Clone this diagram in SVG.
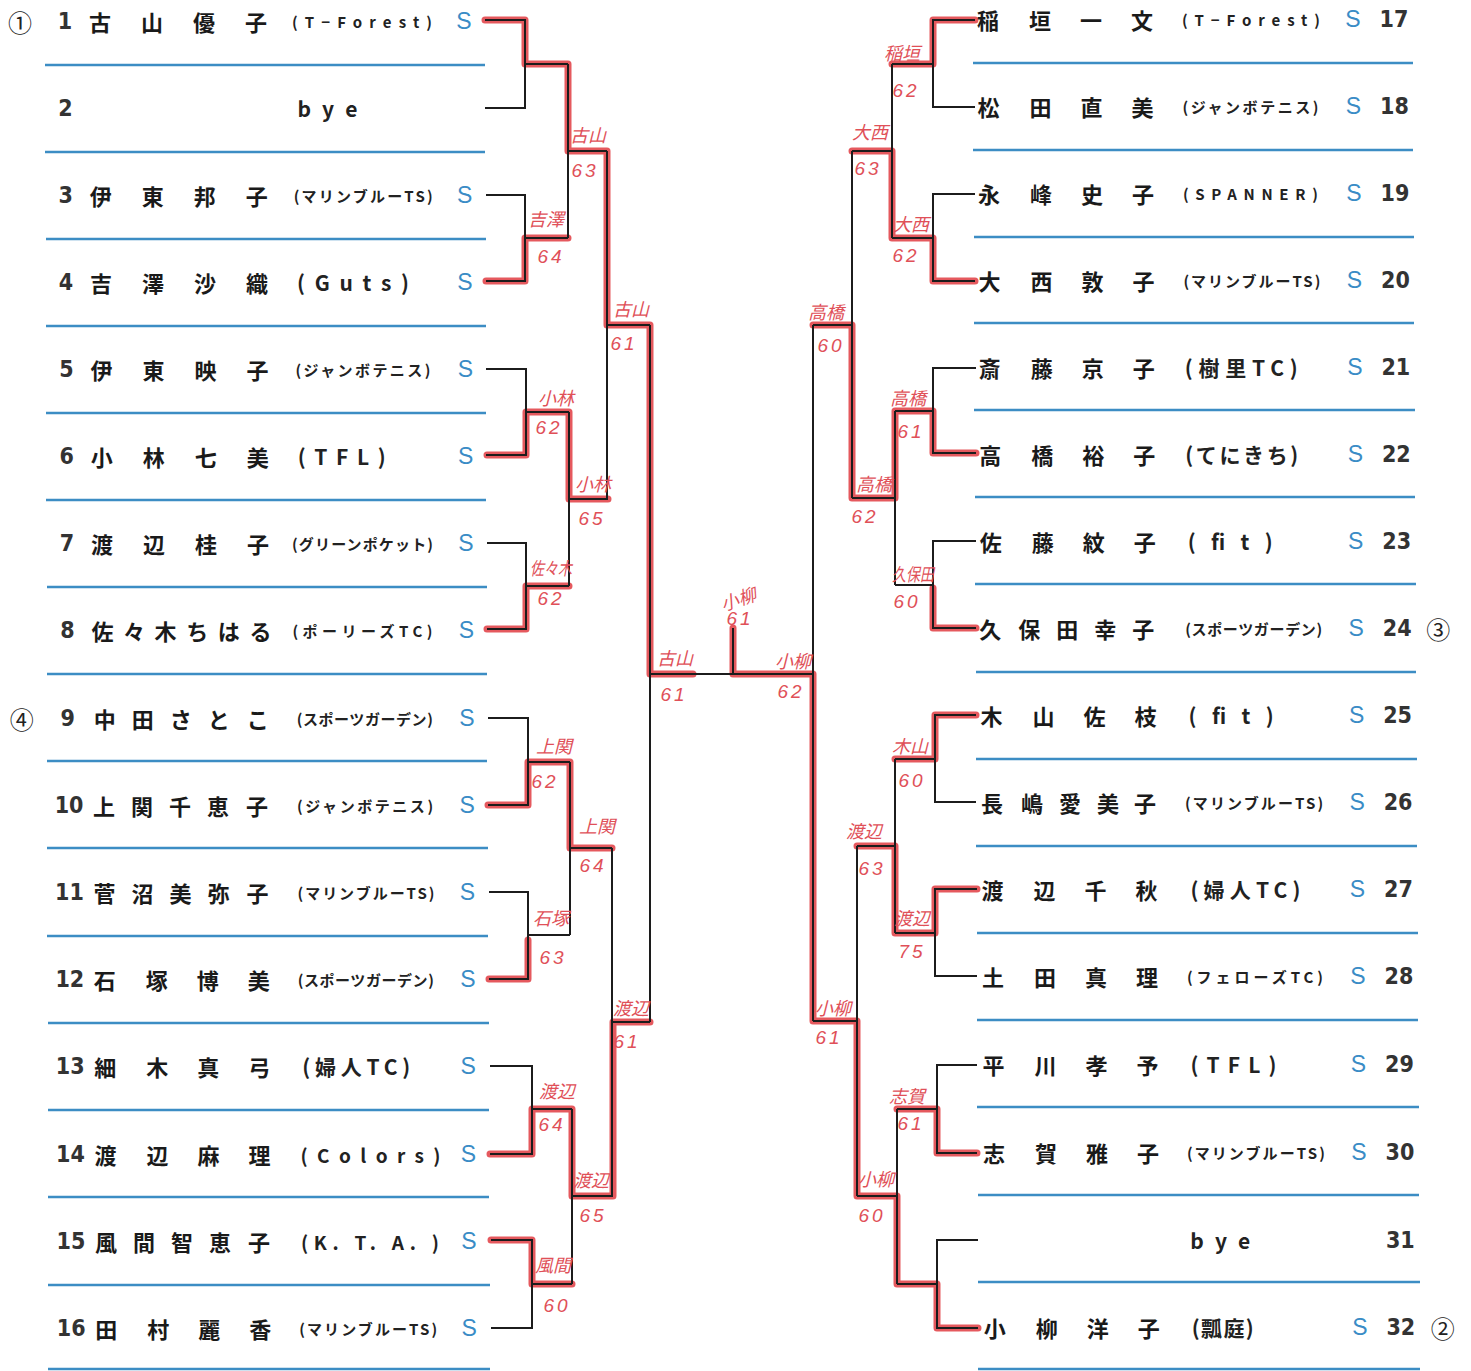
<svg xmlns="http://www.w3.org/2000/svg" width="1471" height="1371" viewBox="0 0 1471 1371">
<defs>
<style>
.nm{font-family:"Noto Sans CJK JP","Noto Sans CJK SC",sans-serif;font-size:22px;font-weight:700;fill:#1a1a1a;text-anchor:middle;dominant-baseline:central}
.no{font-family:"DejaVu Sans Condensed","DejaVu Sans","Liberation Sans Narrow",sans-serif;font-stretch:condensed;font-size:23px;font-weight:700;fill:#333;text-anchor:middle;dominant-baseline:central}
.cl{font-family:"Noto Sans CJK JP","Noto Sans CJK SC",sans-serif;font-size:15px;font-weight:700;fill:#222;dominant-baseline:central}
.cm{font-family:"Noto Sans CJK JP","Noto Sans CJK SC",sans-serif;font-size:19px;font-weight:700;fill:#222;dominant-baseline:central}
.cb{font-family:"Noto Sans CJK JP","Noto Sans CJK SC",sans-serif;font-size:21px;font-weight:700;fill:#222;dominant-baseline:central}
.s{font-family:"Liberation Sans",sans-serif;font-size:23px;fill:#3a8cc6;text-anchor:middle;dominant-baseline:central}
.ci{font-family:"Noto Sans CJK JP","Noto Sans CJK SC",sans-serif;font-size:24px;fill:#222;text-anchor:middle;dominant-baseline:central}
.sep{stroke:#3c8dc4;stroke-width:2.5}
.br{fill:none;stroke:#1c1c1c;stroke-width:2}
.win{fill:none;stroke:#e2474d;stroke-width:7;stroke-opacity:0.9;stroke-linejoin:round;stroke-linecap:round}
.hw{font-family:"Noto Sans CJK JP","Noto Sans CJK SC",sans-serif;font-size:18px;fill:#e05058;text-anchor:middle;dominant-baseline:central;font-style:italic}
.hs{font-family:"Liberation Sans",sans-serif;font-size:19px;fill:#e05058;text-anchor:middle;dominant-baseline:central;font-style:italic;letter-spacing:3px}
</style>
</defs>
<rect width="1471" height="1371" fill="#ffffff"/>

<g id="rules">
<line class="sep" x1="45" y1="65" x2="485" y2="65"/>
<line class="sep" x1="45" y1="152" x2="485" y2="152"/>
<line class="sep" x1="46" y1="239" x2="486" y2="239"/>
<line class="sep" x1="46" y1="326" x2="486" y2="326"/>
<line class="sep" x1="46" y1="413" x2="486" y2="413"/>
<line class="sep" x1="46" y1="500" x2="486" y2="500"/>
<line class="sep" x1="47" y1="587" x2="487" y2="587"/>
<line class="sep" x1="47" y1="674" x2="487" y2="674"/>
<line class="sep" x1="47" y1="761" x2="487" y2="761"/>
<line class="sep" x1="47" y1="848" x2="488" y2="848"/>
<line class="sep" x1="47" y1="936" x2="488" y2="936"/>
<line class="sep" x1="48" y1="1023" x2="489" y2="1023"/>
<line class="sep" x1="48" y1="1110" x2="489" y2="1110"/>
<line class="sep" x1="48" y1="1197" x2="489" y2="1197"/>
<line class="sep" x1="48" y1="1285" x2="490" y2="1285"/>
<line class="sep" x1="48" y1="1369" x2="490" y2="1369"/>
<line class="sep" x1="973" y1="63" x2="1413" y2="63"/>
<line class="sep" x1="973" y1="150" x2="1413" y2="150"/>
<line class="sep" x1="974" y1="237" x2="1414" y2="237"/>
<line class="sep" x1="974" y1="323" x2="1414" y2="323"/>
<line class="sep" x1="974" y1="410" x2="1415" y2="410"/>
<line class="sep" x1="975" y1="497" x2="1415" y2="497"/>
<line class="sep" x1="975" y1="584" x2="1416" y2="584"/>
<line class="sep" x1="976" y1="672" x2="1416" y2="672"/>
<line class="sep" x1="976" y1="759" x2="1417" y2="759"/>
<line class="sep" x1="976" y1="846" x2="1417" y2="846"/>
<line class="sep" x1="977" y1="933" x2="1418" y2="933"/>
<line class="sep" x1="977" y1="1020" x2="1418" y2="1020"/>
<line class="sep" x1="977" y1="1107" x2="1419" y2="1107"/>
<line class="sep" x1="978" y1="1195" x2="1419" y2="1195"/>
<line class="sep" x1="978" y1="1282" x2="1420" y2="1282"/>
<line class="sep" x1="978" y1="1369" x2="1420" y2="1369"/>
</g>

<g id="connectors">
<g id="winners">
<path class="win" d="M485,20 H525 V64 H568 V151 H607 V325 H650 V674 H693"/>
<path class="win" d="M486,281 H525 V238 H568"/>
<path class="win" d="M487,455 H526 V412 H569 V499 H608"/>
<path class="win" d="M487,629 H526 V586 H569"/>
<path class="win" d="M488,805 H528 V762 H570 V848 H612"/>
<path class="win" d="M489,979 H528 V940"/>
<path class="win" d="M490,1154 H532 V1109 H572 V1196 H613 V1022 H650"/>
<path class="win" d="M491,1240 H532 V1284 H572"/>
<path class="win" d="M975,20 H933 V64 H892"/>
<path class="win" d="M975,281 H933 V238 H892 V151 H852"/>
<path class="win" d="M976,453 H933 V411 H895 V498 H852 V325 H813"/>
<path class="win" d="M976,628 H933 V588"/>
<path class="win" d="M976,715 H935 V759 H895"/>
<path class="win" d="M977,889 H935 V933 H895 V846 H857"/>
<path class="win" d="M977,1153 H937 V1109 H897"/>
<path class="win" d="M978,1328 H937 V1284 H897 V1196 H857 V1021 H813 V674 H733 V628"/>
</g>
<g id="lines">
<path class="br" d="M485,20 H525 V108 H485 M525,64 H568"/>
<path class="br" d="M486,195 H525 V281 H486 M525,238 H568"/>
<path class="br" d="M486,369 H526 V455 H486 M526,412 H569"/>
<path class="br" d="M487,543 H526 V629 H487 M526,586 H569"/>
<path class="br" d="M488,718 H528 V805 H488 M528,762 H570"/>
<path class="br" d="M489,892 H528 V979 H489 M528,935 H570"/>
<path class="br" d="M490,1066 H532 V1154 H490 M532,1109 H572"/>
<path class="br" d="M491,1240 H532 V1328 H491 M532,1284 H572"/>
<path class="br" d="M568,64 V238 M568,151 H607"/>
<path class="br" d="M569,412 V586 M569,499 H608"/>
<path class="br" d="M570,762 V935 M570,848 H612"/>
<path class="br" d="M572,1109 V1284 M572,1196 H613"/>
<path class="br" d="M607,151 V499 M607,325 H650"/>
<path class="br" d="M612,848 V1196 M612,1022 H650"/>
<path class="br" d="M650,325 V1022"/>
<path class="br" d="M650,674 H813 M733,628 V674"/>
<path class="br" d="M975,20 H933 V107 H975 M933,64 H892"/>
<path class="br" d="M975,194 H933 V281 H975 M933,238 H892"/>
<path class="br" d="M976,368 H933 V453 H976 M933,411 H895"/>
<path class="br" d="M976,541 H933 V628 H976 M933,585 H895"/>
<path class="br" d="M976,715 H935 V802 H976 M935,759 H895"/>
<path class="br" d="M977,889 H935 V976 H977 M935,933 H895"/>
<path class="br" d="M977,1065 H937 V1153 H977 M937,1109 H897"/>
<path class="br" d="M978,1240 H937 V1328 H978 M937,1284 H897"/>
<path class="br" d="M892,64 V238 M892,151 H852"/>
<path class="br" d="M895,411 V585 M895,498 H852"/>
<path class="br" d="M895,759 V933 M895,846 H857"/>
<path class="br" d="M897,1109 V1284 M897,1196 H857"/>
<path class="br" d="M852,151 V498 M852,325 H813"/>
<path class="br" d="M857,846 V1196 M857,1021 H813"/>
<path class="br" d="M813,325 V1021"/>
</g>
</g>

<g id="labels">
<text class="hw" x="546" y="218">吉澤</text><text class="hs" x="551" y="256">64</text>
<text class="hw" x="588" y="134">古山</text><text class="hs" x="585" y="170">63</text>
<text class="hw" x="631" y="308">古山</text><text class="hs" x="624" y="343">61</text>
<text class="hw" x="556" y="397">小林</text><text class="hs" x="549" y="427">62</text>
<text class="hw" x="593" y="483">小林</text><text class="hs" x="592" y="518">65</text>
<text class="hw" x="551" y="567" textLength="42" lengthAdjust="spacingAndGlyphs">佐々木</text><text class="hs" x="551" y="598">62</text>
<text class="hw" x="675" y="657">古山</text><text class="hs" x="674" y="694">61</text>
<text class="hw" x="554" y="745">上関</text><text class="hs" x="545" y="781">62</text>
<text class="hw" x="597" y="825">上関</text><text class="hs" x="593" y="865">64</text>
<text class="hw" x="551" y="917">石塚</text><text class="hs" x="553" y="957">63</text>
<text class="hw" x="631" y="1007">渡辺</text><text class="hs" x="627" y="1041">61</text>
<text class="hw" x="557" y="1090">渡辺</text><text class="hs" x="552" y="1124">64</text>
<text class="hw" x="591" y="1179">渡辺</text><text class="hs" x="593" y="1215">65</text>
<text class="hw" x="553" y="1264">風間</text><text class="hs" x="557" y="1305">60</text>
<text class="hw" x="902" y="52">稲垣</text><text class="hs" x="906" y="90">62</text>
<text class="hw" x="870" y="131">大西</text><text class="hs" x="868" y="168">63</text>
<text class="hw" x="911" y="223">大西</text><text class="hs" x="906" y="255">62</text>
<text class="hw" x="826" y="311">高橋</text><text class="hs" x="831" y="345">60</text>
<text class="hw" x="908" y="397">高橋</text><text class="hs" x="911" y="431">61</text>
<text class="hw" x="874" y="483">高橋</text><text class="hs" x="865" y="516">62</text>
<text class="hw" x="913" y="573" textLength="42" lengthAdjust="spacingAndGlyphs">久保田</text><text class="hs" x="907" y="601">60</text>
<text class="hw" x="910" y="745">木山</text><text class="hs" x="912" y="780">60</text>
<text class="hw" x="864" y="830">渡辺</text><text class="hs" x="872" y="868">63</text>
<text class="hw" x="912" y="917">渡辺</text><text class="hs" x="912" y="951">75</text>
<text class="hw" x="833" y="1007">小柳</text><text class="hs" x="829" y="1037">61</text>
<text class="hw" x="907" y="1095">志賀</text><text class="hs" x="911" y="1123">61</text>
<text class="hw" x="876" y="1178">小柳</text><text class="hs" x="872" y="1215">60</text>
<text class="hw" x="793" y="660">小柳</text><text class="hs" x="791" y="691">62</text>
<text class="hw" x="738" y="598" font-size="21" transform="rotate(-18 738 598)">小柳</text><text class="hs" x="740" y="618" font-size="21">61</text>
</g>

<g id="p1" transform="translate(0,21)"><text class="ci" x="20" y="0">①</text><text class="no" x="65" y="0">1</text><text class="nm" x="100 152 204 256" y="0">古山優子</text><text class="cl" x="292" y="0" textLength="140" lengthAdjust="spacing">(T−Forest)</text><text class="s" x="464" y="0">S</text></g>
<g id="p2" transform="translate(0.4,108)"><text class="no" x="65" y="0">2</text><text class="cb" x="297" y="0" textLength="60" lengthAdjust="spacing">bye</text></g>
<g id="p3" transform="translate(0.7,195)"><text class="no" x="65" y="0">3</text><text class="nm" x="100 152 204 256" y="0">伊東邦子</text><text class="cl" x="293" y="0" textLength="139" lengthAdjust="spacing">(マリンブルーTS)</text><text class="s" x="464" y="0">S</text></g>
<g id="p4" transform="translate(1,282)"><text class="no" x="65" y="0">4</text><text class="nm" x="100 152 204 256" y="0">吉澤沙織</text><text class="cb" x="296" y="0" textLength="112" lengthAdjust="spacing">(Guts)</text><text class="s" x="464" y="0">S</text></g>
<g id="p5" transform="translate(1.4,369)"><text class="no" x="65" y="0">5</text><text class="nm" x="100 152 204 256" y="0">伊東映子</text><text class="cl" x="294" y="0" textLength="135" lengthAdjust="spacing">(ジャンボテニス)</text><text class="s" x="464" y="0">S</text></g>
<g id="p6" transform="translate(1.7,456)"><text class="no" x="65" y="0">6</text><text class="nm" x="100 152 204 256" y="0">小林七美</text><text class="cb" x="296" y="0" textLength="88" lengthAdjust="spacing">(TFL)</text><text class="s" x="464" y="0">S</text></g>
<g id="p7" transform="translate(2,543)"><text class="no" x="65" y="0">7</text><text class="nm" x="100 152 204 256" y="0">渡辺桂子</text><text class="cl" x="290" y="0" textLength="141" lengthAdjust="spacing">(グリーンポケット)</text><text class="s" x="464" y="0">S</text></g>
<g id="p8" transform="translate(2.4,630)"><text class="no" x="65" y="0">8</text><text class="nm" x="100 131.6 163.2 194.8 226.4 258" y="0">佐々木ちはる</text><text class="cl" x="290" y="0" textLength="140" lengthAdjust="spacing">(ポーリーズTC)</text><text class="s" x="464" y="0">S</text></g>
<g id="p9" transform="translate(2.8,718)"><text class="ci" x="19" y="0">④</text><text class="no" x="65" y="0">9</text><text class="nm" x="102 140 178 216 255" y="0">中田さとこ</text><text class="cl" x="294" y="0" textLength="136" lengthAdjust="spacing">(スポーツガーデン)</text><text class="s" x="464" y="0">S</text></g>
<g id="p10" transform="translate(3.1,805)"><text class="no" x="66" y="0">10</text><text class="nm" x="101 139 177 215 254" y="0">上関千恵子</text><text class="cl" x="294" y="0" textLength="136" lengthAdjust="spacing">(ジャンボテニス)</text><text class="s" x="464" y="0">S</text></g>
<g id="p11" transform="translate(3.5,892)"><text class="no" x="66" y="0">11</text><text class="nm" x="101 139 177 215 254" y="0">菅沼美弥子</text><text class="cl" x="294" y="0" textLength="137" lengthAdjust="spacing">(マリンブルーTS)</text><text class="s" x="464" y="0">S</text></g>
<g id="p12" transform="translate(3.8,979)"><text class="no" x="66" y="0">12</text><text class="nm" x="101 153 204 255" y="0">石塚博美</text><text class="cl" x="294" y="0" textLength="136" lengthAdjust="spacing">(スポーツガーデン)</text><text class="s" x="464" y="0">S</text></g>
<g id="p13" transform="translate(4.2,1066)"><text class="no" x="66" y="0">13</text><text class="nm" x="101 153 204 255" y="0">細木真弓</text><text class="cb" x="298" y="0" textLength="108" lengthAdjust="spacing">(婦人TC)</text><text class="s" x="464" y="0">S</text></g>
<g id="p14" transform="translate(4.5,1154)"><text class="no" x="66" y="0">14</text><text class="nm" x="101 153 204 255" y="0">渡辺麻理</text><text class="cm" x="296" y="0" textLength="140" lengthAdjust="spacing">(Colors)</text><text class="s" x="464" y="0">S</text></g>
<g id="p15" transform="translate(4.9,1241)"><text class="no" x="66" y="0">15</text><text class="nm" x="101 139 177 215 254" y="0">風間智恵子</text><text class="cm" x="296" y="0" textLength="138" lengthAdjust="spacing">(K. T. A. )</text><text class="s" x="464" y="0">S</text></g>
<g id="p16" transform="translate(5.2,1328)"><text class="no" x="66" y="0">16</text><text class="nm" x="101 153 204 255" y="0">田村麗香</text><text class="cl" x="294" y="0" textLength="138" lengthAdjust="spacing">(マリンブルーTS)</text><text class="s" x="464" y="0">S</text></g>

<g id="p17" transform="translate(0,19)"><text class="nm" x="988 1040 1091 1142" y="0">稲垣一文</text><text class="cl" x="1182" y="0" textLength="138" lengthAdjust="spacing">(T−Forest)</text><text class="s" x="1353" y="0">S</text><text class="no" x="1394" y="0">17</text></g>
<g id="p18" transform="translate(0.5,106)"><text class="nm" x="988 1040 1091 1142" y="0">松田直美</text><text class="cl" x="1182" y="0" textLength="136" lengthAdjust="spacing">(ジャンボテニス)</text><text class="s" x="1353" y="0">S</text><text class="no" x="1394" y="0">18</text></g>
<g id="p19" transform="translate(0.9,193)"><text class="nm" x="988 1040 1091 1142" y="0">永峰史子</text><text class="cl" x="1182" y="0" textLength="135" lengthAdjust="spacing">(SPANNER)</text><text class="s" x="1353" y="0">S</text><text class="no" x="1394" y="0">19</text></g>
<g id="p20" transform="translate(1.4,280)"><text class="nm" x="988 1040 1091 1142" y="0">大西敦子</text><text class="cl" x="1182" y="0" textLength="137" lengthAdjust="spacing">(マリンブルーTS)</text><text class="s" x="1353" y="0">S</text><text class="no" x="1394" y="0">20</text></g>
<g id="p21" transform="translate(1.8,367)"><text class="nm" x="988 1040 1091 1142" y="0">斎藤京子</text><text class="cb" x="1183" y="0" textLength="113" lengthAdjust="spacing">(樹里TC)</text><text class="s" x="1353" y="0">S</text><text class="no" x="1394" y="0">21</text></g>
<g id="p22" transform="translate(2.3,454)"><text class="nm" x="988 1040 1091 1142" y="0">高橋裕子</text><text class="cb" x="1183" y="0" textLength="113" lengthAdjust="spacing">(てにきち)</text><text class="s" x="1353" y="0">S</text><text class="no" x="1394" y="0">22</text></g>
<g id="p23" transform="translate(2.7,541)"><text class="nm" x="988 1040 1091 1142" y="0">佐藤紋子</text><text class="cb" x="1185" y="0" textLength="85" lengthAdjust="spacing">(fit)</text><text class="s" x="1353" y="0">S</text><text class="no" x="1394" y="0">23</text></g>
<g id="p24" transform="translate(3.2,628)"><text class="nm" x="987 1026 1064 1102 1140" y="0">久保田幸子</text><text class="cl" x="1182" y="0" textLength="137" lengthAdjust="spacing">(スポーツガーデン)</text><text class="s" x="1353" y="0">S</text><text class="no" x="1394" y="0">24</text><text class="ci" x="1435" y="0">③</text></g>
<g id="p25" transform="translate(3.6,715)"><text class="nm" x="988 1040 1091 1142" y="0">木山佐枝</text><text class="cb" x="1185" y="0" textLength="85" lengthAdjust="spacing">(fit)</text><text class="s" x="1353" y="0">S</text><text class="no" x="1394" y="0">25</text></g>
<g id="p26" transform="translate(4.1,802)"><text class="nm" x="988 1028 1066 1104 1141" y="0">長嶋愛美子</text><text class="cl" x="1181" y="0" textLength="138" lengthAdjust="spacing">(マリンブルーTS)</text><text class="s" x="1353" y="0">S</text><text class="no" x="1394" y="0">26</text></g>
<g id="p27" transform="translate(4.5,889)"><text class="nm" x="988 1040 1091 1142" y="0">渡辺千秋</text><text class="cb" x="1186" y="0" textLength="110" lengthAdjust="spacing">(婦人TC)</text><text class="s" x="1353" y="0">S</text><text class="no" x="1394" y="0">27</text></g>
<g id="p28" transform="translate(5,976)"><text class="nm" x="988 1040 1091 1142" y="0">土田真理</text><text class="cl" x="1182" y="0" textLength="136" lengthAdjust="spacing">(フェローズTC)</text><text class="s" x="1353" y="0">S</text><text class="no" x="1394" y="0">28</text></g>
<g id="p29" transform="translate(5.4,1064)"><text class="nm" x="988 1040 1091 1142" y="0">平川孝予</text><text class="cb" x="1185" y="0" textLength="86" lengthAdjust="spacing">(TFL)</text><text class="s" x="1353" y="0">S</text><text class="no" x="1394" y="0">29</text></g>
<g id="p30" transform="translate(5.9,1152)"><text class="nm" x="988 1040 1091 1142" y="0">志賀雅子</text><text class="cl" x="1181" y="0" textLength="138" lengthAdjust="spacing">(マリンブルーTS)</text><text class="s" x="1353" y="0">S</text><text class="no" x="1394" y="0">30</text></g>
<g id="p31" transform="translate(6.3,1240)"><text class="cb" x="1184" y="0" textLength="60" lengthAdjust="spacing">bye</text><text class="no" x="1394" y="0">31</text></g>
<g id="p32" transform="translate(6.8,1327)"><text class="nm" x="988 1040 1091 1142" y="0">小柳洋子</text><text class="cb" x="1185" y="0" textLength="62" lengthAdjust="spacing">(瓢庭)</text><text class="s" x="1353" y="0">S</text><text class="no" x="1394" y="0">32</text><text class="ci" x="1436" y="0">②</text></g>
</svg>
